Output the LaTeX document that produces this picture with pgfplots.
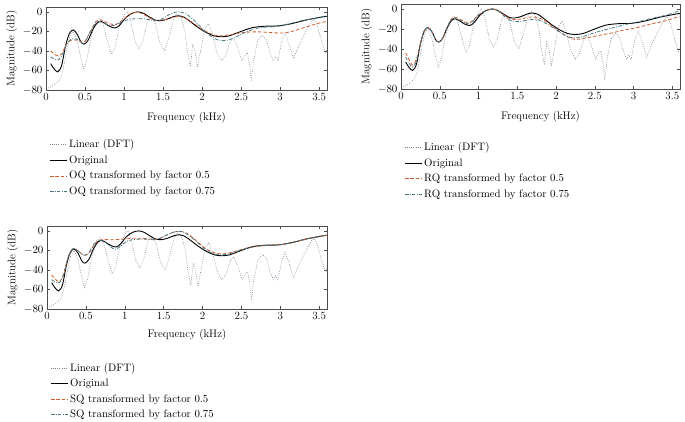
\documentclass[border=0pt]{standalone}
\usepackage{pgfplots}
\pgfplotsset{compat=1.18}
\usepackage{pgfplotstable}

\definecolor{dftcol}{RGB}{120,125,145}
\definecolor{halfcol}{RGB}{205,95,50}
\definecolor{tqcol}{RGB}{70,120,130}

% Linear (DFT) spectrum, shared by all panels
\pgfplotstableread{
f db
0.03 -78
0.10 -75
0.17 -70
0.20 -65
0.23 -55
0.27 -38
0.31 -23
0.35 -20
0.40 -30
0.44 -45
0.48 -58
0.52 -50
0.58 -25
0.64 -10
0.68 -7
0.73 -12
0.78 -28
0.84 -44
0.88 -38
0.94 -15
1.00 -3
1.04 0
1.08 -8
1.14 -30
1.19 -38
1.24 -30
1.30 -10
1.35 -5
1.40 -12
1.46 -32
1.52 -40
1.58 -25
1.64 -6
1.68 -2
1.73 -6
1.78 -20
1.81 -40
1.85 -56
1.88 -33
1.91 -40
1.94 -57
1.98 -40
2.03 -18
2.08 -12
2.13 -22
2.19 -42
2.25 -50
2.30 -45
2.36 -30
2.40 -27
2.45 -35
2.51 -50
2.55 -44
2.58 -42
2.61 -55
2.63 -71
2.66 -50
2.71 -30
2.77 -24
2.82 -28
2.87 -42
2.91 -50
2.94 -46
2.97 -50
3.02 -30
3.06 -22
3.11 -32
3.17 -48
3.22 -38
3.28 -28
3.33 -20
3.40 -10
3.44 -8
3.48 -15
3.53 -30
3.58 -42
3.60 -38
}\lindft

% Original envelope
\pgfplotstableread{
f db
0.06 -53
0.10 -58
0.15 -61.5
0.20 -55
0.25 -35
0.30 -22
0.35 -18.5
0.40 -23
0.45 -31
0.49 -33
0.54 -29
0.60 -18
0.66 -11
0.71 -10
0.76 -12
0.82 -15
0.89 -16.5
0.95 -13
1.02 -6
1.10 -1.5
1.18 0
1.25 -1.5
1.33 -5.5
1.40 -8.5
1.47 -9
1.55 -7.5
1.63 -5
1.70 -4
1.77 -5.5
1.85 -10
1.95 -16
2.05 -21
2.15 -24.5
2.25 -25.5
2.35 -24.5
2.45 -21.5
2.55 -18.5
2.65 -16
2.75 -15
2.85 -14.5
2.95 -14.5
3.05 -13.5
3.15 -12
3.25 -10
3.35 -8
3.45 -6.5
3.55 -5
3.60 -4.5
}\orig

\pgfplotstableread{
f db
0.06 -40
0.10 -43
0.16 -45
0.21 -42
0.26 -33
0.32 -29
0.40 -29
0.46 -31
0.50 -30
0.57 -20
0.64 -10
0.70 -8
0.78 -11
0.86 -13
0.92 -12
1.00 -7
1.08 -2
1.16 -0.5
1.24 -2
1.32 -6
1.40 -8.5
1.47 -8.5
1.55 -7.5
1.63 -5.5
1.70 -5
1.78 -6
1.86 -10
1.95 -15
2.05 -20
2.15 -23.5
2.25 -24.5
2.35 -23.5
2.45 -22
2.55 -21
2.65 -20.5
2.75 -20.5
2.85 -21
2.95 -21.5
3.05 -21.5
3.15 -20
3.25 -17.5
3.35 -15
3.45 -12.5
3.55 -10.5
3.60 -10
}\oqhalf

\pgfplotstableread{
f db
0.06 -46
0.10 -48
0.16 -49
0.21 -44
0.26 -34
0.32 -28
0.40 -28
0.46 -32
0.50 -31
0.57 -20
0.64 -11
0.70 -10
0.78 -13
0.86 -14
0.93 -12
1.00 -9
1.08 -7.5
1.16 -7
1.24 -7
1.32 -8
1.40 -9
1.47 -8
1.55 -4
1.63 -1
1.70 0
1.78 -1.5
1.86 -6
1.95 -13
2.05 -21
2.15 -27
2.25 -29.5
2.35 -28.5
2.45 -25
2.55 -21
2.65 -18
2.75 -16
2.85 -15.5
2.95 -15
3.05 -13.5
3.15 -11.5
3.25 -9.5
3.35 -8
3.45 -6.5
3.55 -5
3.60 -4.5
}\oqtq

\pgfplotstableread{
f db
0.06 -44
0.10 -50
0.15 -56
0.20 -50
0.25 -34
0.30 -22
0.35 -18.5
0.40 -23
0.45 -31
0.49 -33
0.54 -29
0.60 -17
0.66 -9.5
0.71 -8.5
0.78 -11
0.86 -14
0.92 -12
1.00 -6
1.10 -1.5
1.18 0
1.25 -1.5
1.33 -6
1.40 -9.5
1.47 -10.5
1.55 -10
1.63 -8.5
1.70 -8
1.78 -9
1.86 -12
1.95 -17
2.05 -23
2.15 -28
2.25 -30.5
2.35 -29.5
2.45 -28
2.55 -26.5
2.65 -25
2.75 -23.5
2.85 -21.5
2.95 -20
3.05 -18.5
3.15 -16.5
3.25 -14.5
3.35 -13
3.45 -11
3.55 -8.5
3.60 -8
}\rqhalf

\pgfplotstableread{
f db
0.06 -48
0.10 -54
0.15 -58
0.20 -52
0.25 -35
0.30 -22
0.35 -18.5
0.40 -23
0.45 -31
0.49 -33
0.54 -29
0.60 -17
0.66 -10
0.71 -9.5
0.78 -12
0.86 -15
0.92 -13
1.00 -6
1.10 -1.5
1.18 0
1.25 -2
1.33 -7
1.40 -11
1.47 -12.5
1.55 -12.5
1.63 -11
1.70 -10.5
1.78 -11
1.86 -14
1.95 -18
2.05 -23
2.15 -27.5
2.25 -29
2.35 -27.5
2.45 -25
2.55 -22.5
2.65 -20.5
2.75 -18.5
2.85 -16.5
2.95 -14.5
3.05 -13
3.15 -11
3.25 -9
3.35 -7.5
3.45 -5.5
3.55 -3
3.60 -2.5
}\rqtq

\pgfplotstableread{
f db
0.06 -45
0.10 -49
0.16 -52
0.21 -45
0.26 -30
0.31 -20
0.36 -18
0.42 -22
0.48 -25
0.54 -23
0.60 -15
0.66 -10
0.72 -9
0.80 -9
0.88 -9
0.96 -8.5
1.04 -8
1.12 -7.5
1.20 -7.5
1.28 -8
1.36 -8.5
1.44 -8
1.52 -5
1.60 -2
1.68 -0.5
1.75 -1
1.83 -4
1.92 -10
2.02 -17
2.12 -21.5
2.22 -23.5
2.32 -23
2.42 -21
2.52 -18.5
2.62 -16.5
2.72 -15.5
2.82 -15
2.92 -14.5
3.02 -14
3.12 -12.5
3.22 -10.5
3.32 -8.5
3.42 -7
3.52 -5.5
3.60 -4.5
}\sqhalf

\pgfplotstableread{
f db
0.06 -50
0.10 -52
0.16 -53
0.21 -46
0.26 -30
0.31 -20
0.36 -18
0.42 -22
0.48 -25
0.54 -22
0.60 -14
0.66 -10
0.72 -10
0.80 -15
0.87 -19
0.94 -16
1.02 -11
1.10 -9
1.20 -8.5
1.28 -8.5
1.36 -9
1.44 -8
1.52 -5
1.60 -2
1.68 -0.5
1.75 -1
1.83 -5
1.92 -11
2.02 -18
2.12 -22.5
2.22 -24.5
2.32 -24
2.42 -21.5
2.52 -19
2.62 -17
2.72 -15.5
2.82 -15
2.92 -14.5
3.02 -14
3.12 -12.5
3.22 -10.5
3.32 -8.5
3.42 -7
3.52 -5.5
3.60 -4.5
}\sqtq

\pgfplotsset{
  panel/.style={
    scale only axis,
    anchor=south west,
    xmin=0, xmax=3.6, ymin=-80, ymax=5,
    xtick={0,0.5,...,3.5},
    xticklabels={0,0.5,1,1.5,2,2.5,3,3.5},
    ytick={-80,-60,...,0},
    tick align=inside,
    major tick length=3pt,
    axis line style={black!70, line width=0.5pt},
    every tick/.style={black!70},
    tick label style={font=\fontsize{11}{13}\selectfont},
    label style={font=\fontsize{11}{13}\selectfont},
    xlabel={Frequency (kHz)},
    ylabel={Magnitude (dB)},
    xlabel style={yshift=-4pt},
    ylabel style={yshift=-1pt},
    legend cell align=left,
    legend style={draw=none, fill=none, anchor=north west,
      font=\fontsize{10.8}{12}\selectfont, row sep=2.4pt},
  },
  dftline/.style={dftcol, line width=0.6pt, dash pattern=on 0.7pt off 1.5pt},
  origline/.style={black, line width=0.9pt},
  halfline/.style={halfcol, line width=0.8pt, dash pattern=on 3.5pt off 2pt},
  tqline/.style={tqcol, line width=0.8pt, dash pattern=on 3.5pt off 1.5pt on 0.8pt off 1.5pt},
}

\begin{document}
\begin{tikzpicture}[x=1pt,y=1pt]
\path[use as bounding box] (0,0) rectangle (685,421);

\begin{axis}[panel, at={(46pt,331pt)}, width=281pt, height=83pt,
  legend style={at={(0,-0.55)}}]
\addplot[dftline] table[x=f,y=db] {\lindft};
\addlegendentry{Linear (DFT)}
\addplot[origline, smooth] table[x=f,y=db] {\orig};
\addlegendentry{Original}
\addplot[halfline, smooth] table[x=f,y=db] {\oqhalf};
\addlegendentry{OQ transformed by factor 0.5}
\addplot[tqline, smooth] table[x=f,y=db] {\oqtq};
\addlegendentry{OQ transformed by factor 0.75}
\end{axis}

\begin{axis}[panel, at={(401pt,332pt)}, width=279pt, height=85pt,
  legend style={at={(0,-0.58)}}]
\addplot[dftline] table[x=f,y=db] {\lindft};
\addlegendentry{Linear (DFT)}
\addplot[origline, smooth] table[x=f,y=db] {\orig};
\addlegendentry{Original}
\addplot[halfline, smooth] table[x=f,y=db] {\rqhalf};
\addlegendentry{RQ transformed by factor 0.5}
\addplot[tqline, smooth] table[x=f,y=db] {\rqtq};
\addlegendentry{RQ transformed by factor 0.75}
\end{axis}

\begin{axis}[panel, at={(47pt,112pt)}, width=280pt, height=83pt,
  xlabel style={yshift=2pt},
  legend style={at={(0,-0.6)}}]
\addplot[dftline] table[x=f,y=db] {\lindft};
\addlegendentry{Linear (DFT)}
\addplot[origline, smooth] table[x=f,y=db] {\orig};
\addlegendentry{Original}
\addplot[halfline, smooth] table[x=f,y=db] {\sqhalf};
\addlegendentry{SQ transformed by factor 0.5}
\addplot[tqline, smooth] table[x=f,y=db] {\sqtq};
\addlegendentry{SQ transformed by factor 0.75}
\end{axis}
\end{tikzpicture}
\end{document}
